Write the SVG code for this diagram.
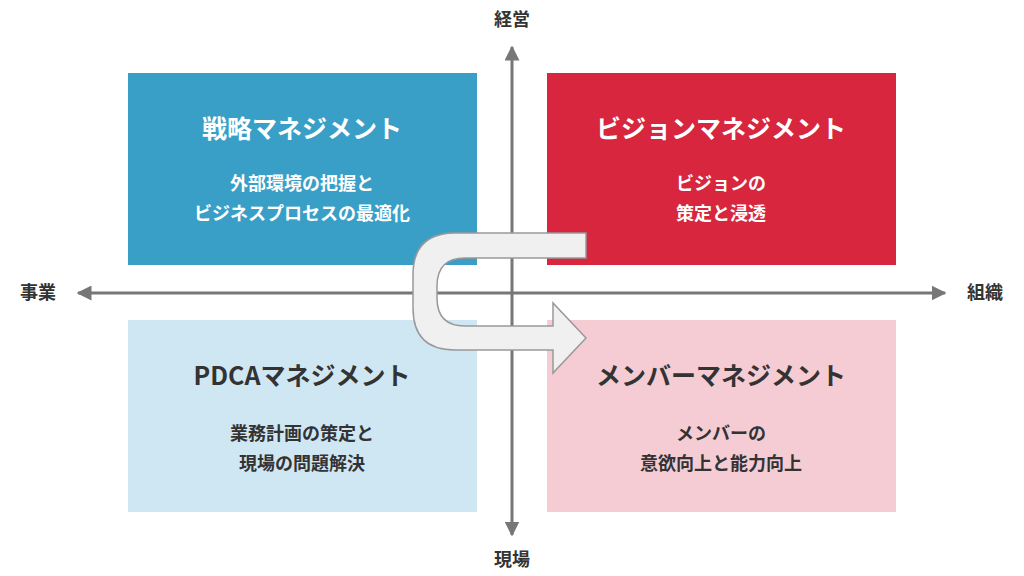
<svg xmlns="http://www.w3.org/2000/svg" width="1024" height="576" viewBox="0 0 1024 576">
<defs>
<marker id="ah" viewBox="0 0 10 10" refX="9" refY="5" markerWidth="5" markerHeight="5" orient="auto-start-reverse"><path d="M0,0 L10,5 L0,10 z" fill="#777"/></marker>
<style>
text{font-family:"Noto Sans CJK JP","Noto Sans",sans-serif;font-weight:bold;text-anchor:middle}
.t{font-size:25px}.s{font-size:18px}.ax{font-size:18px;fill:#333}
.w{fill:#fff}.d{fill:#333}
</style>
</defs>
<rect width="1024" height="576" fill="#fff"/>
<g id="n1"><rect x="128" y="73" width="349" height="192" fill="#3a9fc7"/>
<text class="t w" x="302" y="138">戦略マネジメント</text>
<text class="s w" x="302" y="190">外部環境の把握と</text><text class="s w" x="302" y="220">ビジネスプロセスの最適化</text></g>
<g id="n2"><rect x="547" y="73" width="349" height="192" fill="#d7263d"/>
<text class="t w" x="721" y="138">ビジョンマネジメント</text>
<text class="s w" x="721" y="190">ビジョンの</text><text class="s w" x="721" y="220">策定と浸透</text></g>
<g id="n3"><rect x="128" y="320" width="349" height="192" fill="#cfe6f3"/>
<text class="t d" x="302" y="385">PDCAマネジメント</text>
<text class="s d" x="302" y="440">業務計画の策定と</text><text class="s d" x="302" y="470">現場の問題解決</text></g>
<g id="n4"><rect x="547" y="320" width="349" height="192" fill="#f5ccd4"/>
<text class="t d" x="721" y="385">メンバーマネジメント</text>
<text class="s d" x="721" y="440">メンバーの</text><text class="s d" x="721" y="470">意欲向上と能力向上</text></g>
<g id="connectors">
<line x1="512" y1="535" x2="512" y2="47" stroke="#777" stroke-width="3" marker-end="url(#ah)" marker-start="url(#ah)"/>
<line x1="78" y1="293" x2="945" y2="293" stroke="#777" stroke-width="3" marker-end="url(#ah)" marker-start="url(#ah)"/>
<path d="M586,233 L455,233 Q413,233 413,275 L413,308 Q413,350 455,350 L553,350 L553,373 L586,338 L553,303 L553,326 L465,326 Q437,326 437,298 L437,286 Q437,258 465,258 L586,258 Z" fill="#f0f0f0" stroke="#999" stroke-width="1.5"/>
</g>
<g id="labels">
<text class="ax" x="512" y="26">経営</text>
<text class="ax" x="512" y="566">現場</text>
<text class="ax" x="38" y="299">事業</text>
<text class="ax" x="985" y="299">組織</text>
</g>
</svg>
